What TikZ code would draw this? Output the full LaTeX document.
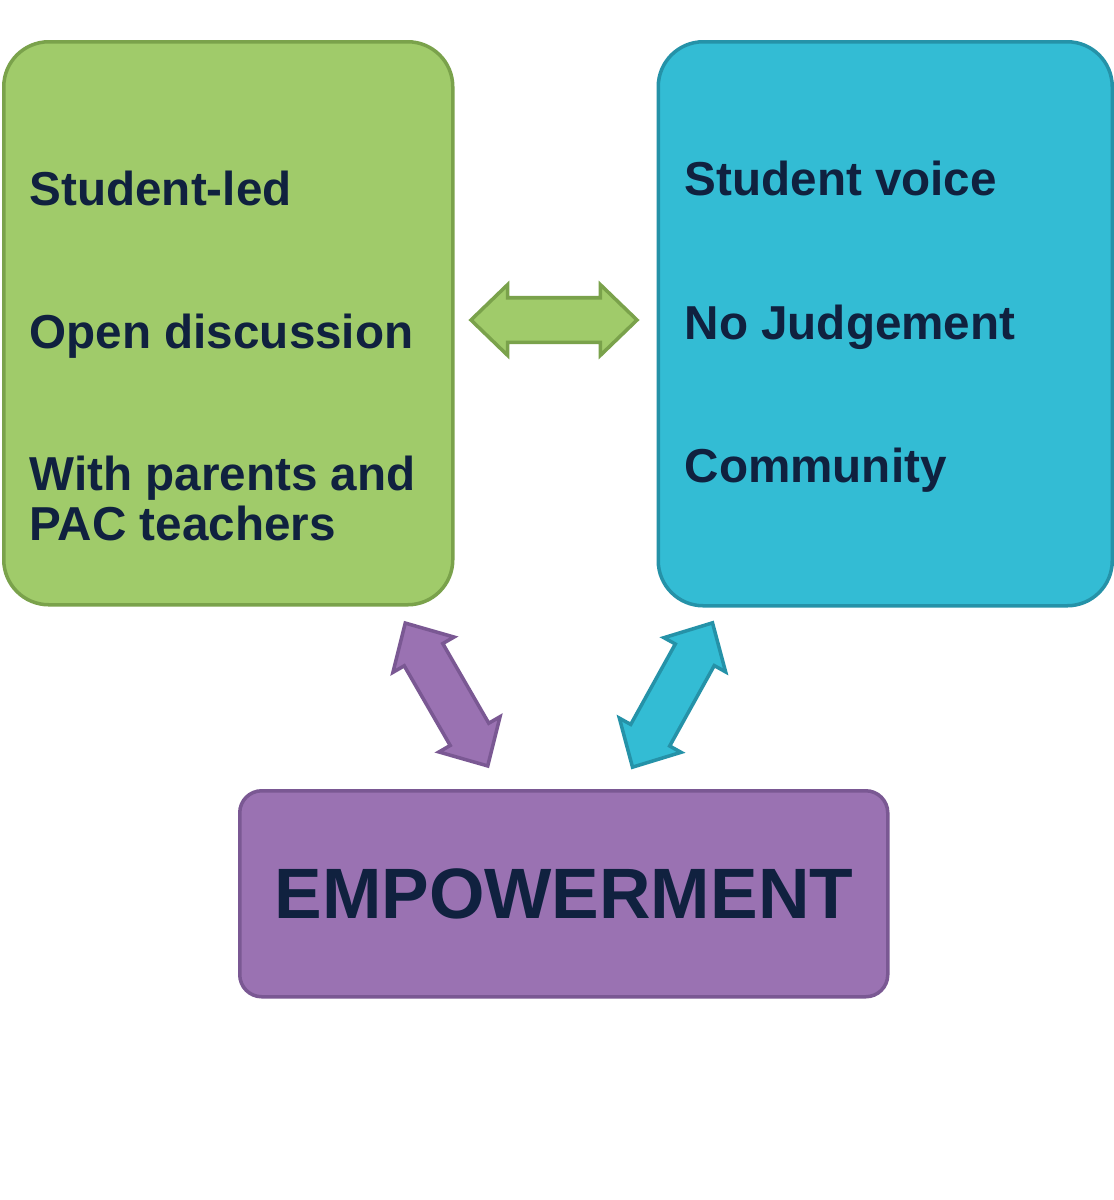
\documentclass[tikz,border=0pt]{standalone}
\usepackage{fontspec}
\setmainfont{Liberation Sans}
\usetikzlibrary{shapes.arrows}

\definecolor{grnfill}{HTML}{A0CB6A}
\definecolor{grnline}{HTML}{7AA24B}
\definecolor{bluefill}{HTML}{33BCD4}
\definecolor{blueline}{HTML}{2592A8}
\definecolor{purpfill}{HTML}{9A72B2}
\definecolor{purpline}{HTML}{7A5893}
\definecolor{navy}{HTML}{10213F}

\tikzset{
	box/.style={draw, line width=1pt, anchor=north west, inner sep=0pt},
	item/.style={anchor=base west, inner sep=0pt, text=navy, font=\fontsize{13.55}{13.7}\selectfont\bfseries},
	link/.style={double arrow, draw, line width=1pt, inner xsep=0pt, inner ysep=0.205cm, minimum height=1.66cm, double arrow head extend=0.13cm, double arrow tip angle=88}
}

\begin{document}
\begin{tikzpicture}
	\fill[white] (0,0) rectangle (11.13,-12);
	\useasboundingbox (0,0) rectangle (11.13,-12);
	% the two boxes on top
	\node[box, fill=grnfill, draw=grnline, rounded corners=0.45cm, minimum width=4.49cm, minimum height=5.63cm] (green) at (0.02,-0.40) {};
	\node[box, fill=bluefill, draw=blueline, rounded corners=0.45cm, minimum width=4.54cm, minimum height=5.64cm] (blue) at (6.565,-0.40) {};
	\node[item] (led) at (0.29,-2.05) {Student-led};
	\node[item] (open) at (0.29,-3.48) {Open discussion};
	\node[item] (parents) at (0.29,-4.90) {With parents and};
	\node[item] (pac) at (0.29,-5.40) {PAC teachers};
	\node[item] (voice) at (6.84,-1.95) {Student voice};
	\node[item] (judge) at (6.84,-3.39) {No Judgement};
	\node[item] (comm) at (6.84,-4.82) {Community};
	% bottom box
	\node[box, fill=purpfill, draw=purpline, rounded corners=0.22cm, minimum width=6.48cm, minimum height=2.06cm] (power) at (2.38,-7.89) {};
	\node[text=navy, inner sep=0pt, font=\fontsize{20.3}{24}\selectfont\bfseries] (powertext) at (power.center) {EMPOWERMENT};
	% arrows
	\node[link, fill=grnfill, draw=grnline] (gb) at (5.54,-3.20) {};
	\node[link, fill=purpfill, draw=purpline, rotate=-60, minimum height=1.65cm] (gp) at (4.465,-6.945) {};
	\node[link, fill=bluefill, draw=blueline, rotate=61, minimum height=1.65cm] (bp) at (6.725,-6.95) {};
\end{tikzpicture}
\end{document}
